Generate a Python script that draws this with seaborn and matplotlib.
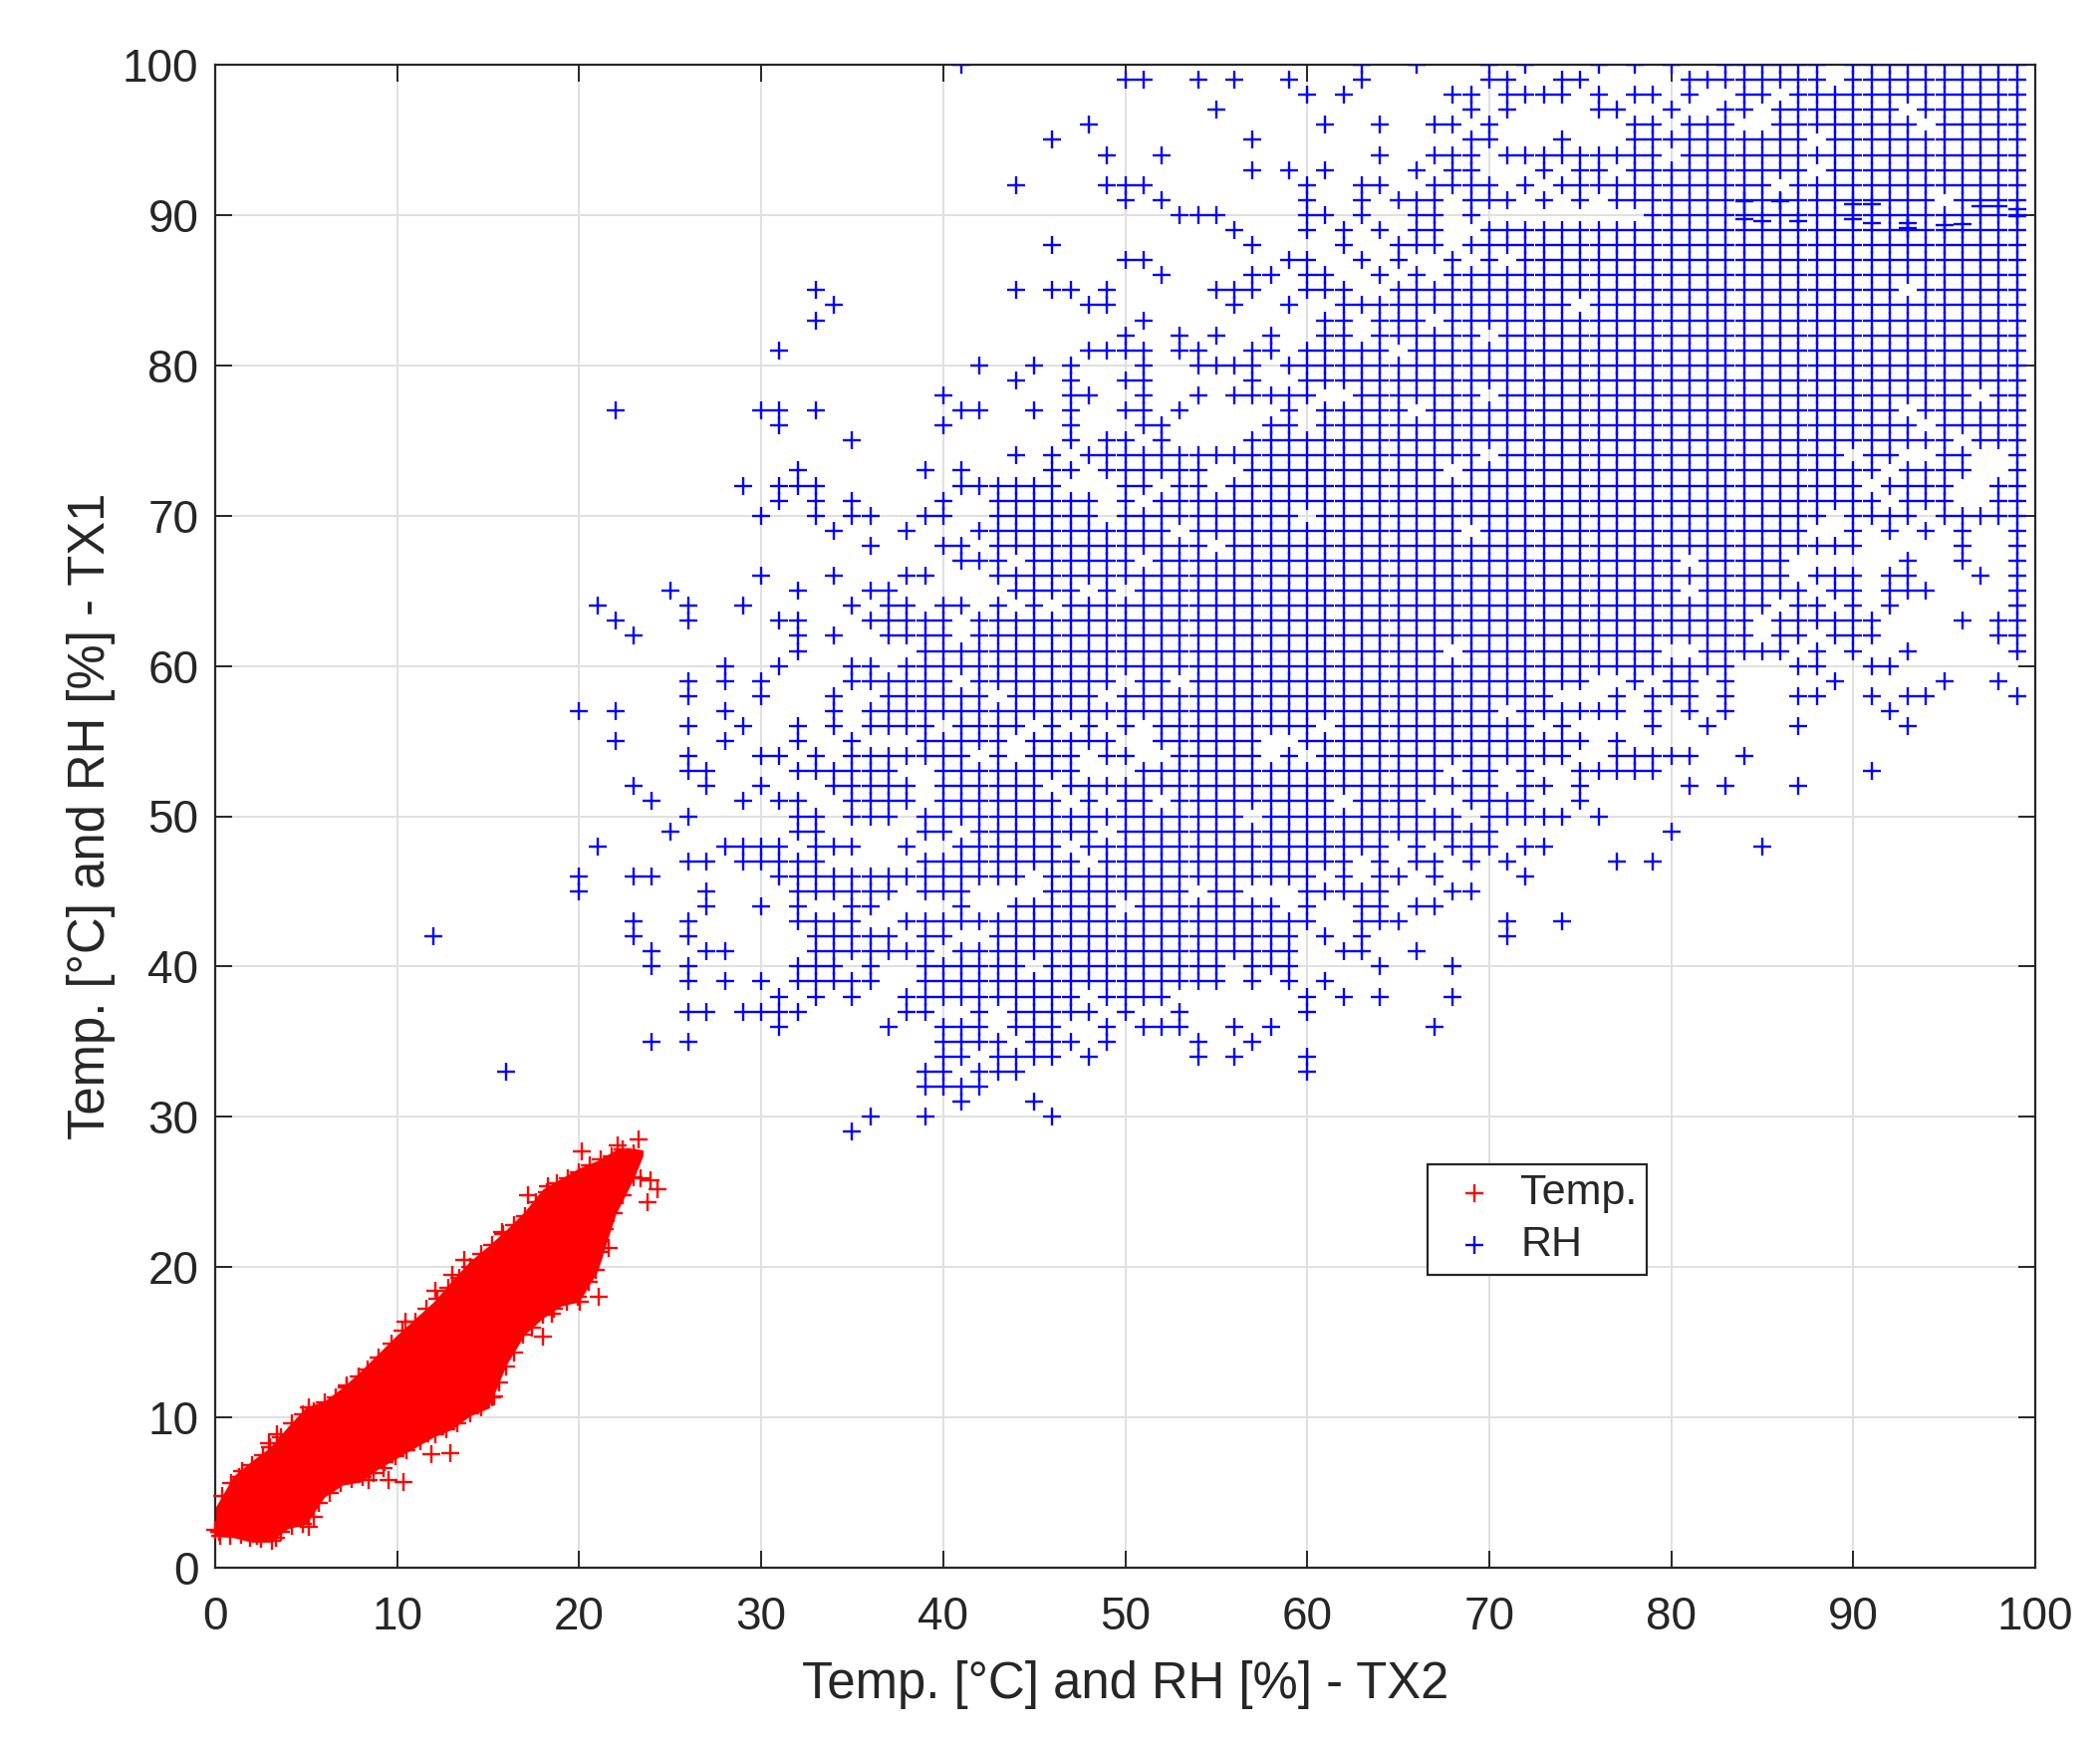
#!/usr/bin/env python
# coding: utf-8

import matplotlib
matplotlib.use('Agg')
import matplotlib.pyplot as plt
import pandas as pd
import seaborn as sns

# RH readings, one list of TX2 values per TX1 level. a tuple is a run of whole values (first, last)
rh_100 = [41, 63, 66, 70, 72, 76, 78, 80, (83, 88), (90, 99)]
rh_99 = [50, 51, 54, 56, 59, 63, 70, 71, 74, 75, (81, 88), (90, 99)]
rh_98 = [60, 62, 68, 69, (71, 74), 76, 78, 79, 81, 84, 85, (87, 99)]
rh_97 = [55, 69, 71, 76, 77, 80, 83, 84, (86, 92), (94, 99)]
rh_96 = [48, 61, 64, 67, 68, 70, 78, 79, (81, 83), (86, 93), (95, 99)]
rh_95 = [46, 57, 69, 70, 74, (78, 87), (89, 99)]
rh_94 = [49, 52, 64, 67, 68, 69, (71, 79), (81, 99)]
rh_93 = [57, 59, 61, 66, 68, 69, 73, 75, 76, (78, 87), (89, 99)]
rh_92 = [44, 49, 50, 51, 60, 63, 64, (67, 70), 72, (74, 85), (87, 99)]
rh_91 = [50, 52, 60, 63, 65, 66, 67, 69, 70, 71, 73, 75, (77, 94), (96, 99)]
rh_90 = [53, 54, 55, 60, 61, 63, 66, 67, 69, (79, 99)]
rh_89 = [56, 60, 62, 64, 66, 67, (70, 99)]
rh_88 = [46, 57, 62, 65, 66, 67, (69, 99)]
rh_87 = [50, 51, 59, 60, 63, 65, 68, 70, (72, 99)]
rh_86 = [52, 57, 58, 60, 61, 64, 66, (68, 99)]
rh_85 = [33, 44, 46, 47, 49, 55, 56, 57, 60, 61, 62, (65, 92), (94, 99)]
rh_84 = [34, 48, 49, 56, 59, (62, 74), (76, 99)]
rh_83 = [33, 51, 61, 62, (64, 66), (68, 99)]
rh_82 = [50, 53, 55, 58, 61, 62, (64, 69), (71, 99)]
rh_81 = [31, 48, 49, 50, 51, 53, 54, 57, 58, (60, 64), (66, 99)]
rh_80 = [42, 45, 47, 51, 54, 55, 56, 57, (59, 99)]
rh_79 = [44, 47, 50, 51, 57, (60, 99)]
rh_78 = [40, 47, 48, 51, 54, (56, 60), (63, 69), (71, 96), 98, 99]
rh_77 = [22, 30, 31, 33, 41, 42, 45, 47, 50, 51, 53, 59, (61, 65), (67, 92), (94, 99)]
rh_76 = [31, 40, 47, 51, 52, 58, 59, (61, 93), (95, 99)]
rh_75 = [35, 47, 49, 50, 52, (57, 95), (97, 99)]
rh_74 = [44, 46, (48, 69), (71, 89), 91, 92, 95, 96, 99]
rh_73 = [32, 39, 41, 46, 47, (49, 54), (57, 67), (69, 91), (93, 96), 99]
rh_72 = [29, 31, 32, 33, (41, 46), 50, 51, 53, 54, (56, 90), (92, 95), 98, 99]
rh_71 = [31, 33, 35, 40, (43, 48), 50, (52, 91), (93, 95), 98, 99]
rh_70 = [30, 33, 35, 36, 39, 40, (43, 48), (50, 59), (61, 88), (90, 93), (95, 99)]
rh_69 = [34, 38, (42, 52), (54, 68), (70, 87), 90, 92, 94, 96, 99]
rh_68 = [36, 40, 41, 43, 44, (45, 54), (56, 90), 96, 99]
rh_67 = [41, 42, 43, (45, 50), (52, 80), (82, 86), 93, 96, 99]
rh_66 = [30, 34, 38, 39, (43, 86), 88, 89, 90, 92, 93, 97, 99]
rh_65 = [25, 32, 36, 37, (44, 47), 49, (51, 80), (82, 87), 89, 90, (92, 94), 99]
rh_64 = [21, 26, 29, 35, 37, 38, 40, 41, 43, 45, (47, 85), 87, 88, 90, 92, 99]
rh_63 = [22, 26, 31, 32, (36, 40), (42, 84), (86, 91), 96, 98, 99]
rh_62 = [23, 32, 34, (37, 40), (42, 84), 86, 87, 89, 90, 91, 98, 99]
rh_61 = [32, (39, 67), (69, 79), (82, 86), 88, 90, 93, 99]
rh_60 = [28, 31, 35, 36, (38, 83), 87, 88, 91, 92]
rh_59 = [26, 28, 30, (35, 40), (42, 49), 51, 52, (54, 75), 78, 80, 81, 83, 89, 95, 98]
rh_58 = [26, 30, 34, (37, 42), (44, 48), (50, 73), 77, (79, 81), 83, 87, 88, 91, 93, 94, 99]
rh_57 = [20, 22, 28, 34, (36, 70), (72, 77), 79, 81, 83, 92]
rh_56 = [26, 29, 32, 34, (36, 39), (41, 44), 46, 48, 50, (52, 60), (62, 72), 74, 79, 82, 87, 93]
rh_55 = [22, 28, 32, 35, (39, 43), (45, 49), (52, 57), (60, 75), 77]
rh_54 = [26, 30, 31, 33, (35, 41), 43, 45, 46, 47, 49, 50, (53, 57), 59, (61, 74), (77, 81), 84]
rh_53 = [26, 27, (32, 37), (40, 47), (51, 67), 69, 70, 72, (75, 79), 91]
rh_52 = [23, 27, 30, (34, 38), (40, 45), (47, 70), 72, 73, 75, 81, 83, 87]
rh_51 = [24, 29, 31, 32, (35, 38), (40, 46), 48, 50, 51, (53, 61), (63, 66), (69, 72), 75]
rh_50 = [26, 32, 33, (35, 37), (39, 56), (58, 68), (70, 74), 76]
rh_49 = [25, 32, 33, 39, 40, (42, 48), (50, 70), 80]
rh_48 = [21, (28, 31), (33, 35), 38, (41, 46), (48, 64), 66, (68, 70), 72, 73, 85]
rh_47 = [26, 27, (29, 33), (39, 47), (49, 62), 64, 66, 67, 69, 71, 77, 79]
rh_46 = [20, 23, 24, (31, 44), (46, 60), 62, 64, 65, 67, 72]
rh_45 = [20, 27, (32, 37), (39, 41), (46, 53), 55, 56, (60, 64), 68, 69]
rh_44 = [27, 30, 32, 35, 36, 41, (44, 49), (51, 58), 60, 63, 64, 66, 67]
rh_43 = [23, 26, (32, 35), (38, 60), (63, 65), 71, 74]
rh_42 = [12, 23, 26, (33, 37), 39, 40, (43, 59), 61, 63, 71]
rh_41 = [24, 27, 28, (33, 39), (41, 59), 62, 63, 66]
rh_40 = [24, 26, (32, 34), 36, (39, 44), (46, 55), (57, 59), 64, 68]
rh_39 = [26, 28, 30, (32, 36), (39, 55), 57, 59, 61]
rh_38 = [31, 33, 35, (38, 47), (49, 52), 60, 62, 64, 68]
rh_37 = [26, 27, (29, 32), 38, 39, 42, (44, 48), 50, 53, 60]
rh_36 = [31, 37, 40, 41, 42, 44, 45, 46, 49, 51, 52, 53, 56, 58, 67]
rh_35 = [24, 26, 40, 41, 42, 43, 45, 46, 47, 49, 54, 57]
rh_34 = [40, 41, 43, 44, 45, 46, 48, 54, 56, 60]
rh_33 = [16, 39, 40, 42, 43, 44, 60]
rh_32 = [39, 40, 41, 42]
rh_31 = [41, 45]
rh_30 = [36, 39, 46]
rh_29 = [35]

# the few off-grid RH readings around 90
rh_odd_x = [84, 86, 84, 85, 87, 90, 91, 90, 91, 93, 93, 95, 96, 97, 98, 99, 99]
rh_odd_y = [90.9, 90.9, 89.7, 89.6, 89.6, 90.75, 90.75, 89.7, 89.45, 89.45, 89.1,
            89.3, 89.4, 90.6, 90.6, 90.4, 89.9]

# Temp. cloud is solid, so only its outline is read: lower and upper edge
temp_edge_x = [0, 1, 2, 3, 4, 5, 6, 7, 8, 9, 10, 11, 12, 13, 14, 15, 16, 17, 18, 19, 20, 21, 22, 23, 23.5]
temp_edge_lo = [2.1, 2.0, 1.7, 1.7, 2.6, 2.9, 4.7, 5.5, 5.7, 6.6, 7.3, 8.0, 8.7, 9.2, 10.1, 10.6,
                13.5, 15.5, 16.6, 17.4, 17.7, 19.7, 23.5, 25.9, 27.4]
temp_edge_hi = [4.0, 6.1, 7.1, 8.0, 9.4, 10.7, 11.1, 12.0, 13.1, 14.3, 15.5, 16.6, 17.7, 19.1, 20.4,
                21.4, 22.5, 23.7, 25.2, 25.9, 26.6, 27.1, 27.8, 27.9, 27.8]

# single crosses standing out of the cloud
temp_x = [18.0, 21.06, 23.77, 24.3, 23.25, 10.37, 11.9, 12.9, 17.2, 20.15, 22.1, 15.76, 13.7, 3.4, 2.96,
          23.9, 23.35, 18.3, 15.2, 21.6, 21.2, 18.5, 20.05, 9.55, 8.45, 9.27, 5.15, 3.33, 2.3, 0.3, 0.0,
          1.3, 5.15, 7.2, 10.45, 12.1, 13.0]
temp_y = [15.35, 18.0, 24.3, 25.2, 28.5, 5.7, 7.57, 7.6, 24.8, 27.7, 28.1, 22.35, 20.5, 8.9, 8.3,
          25.8, 25.9, 25.4, 11.3, 21.3, 22.4, 16.9, 17.7, 5.8, 5.8, 6.6, 2.7, 2.0, 2.15, 2.15, 2.5,
          6.0, 10.66, 12.1, 16.4, 18.4, 19.5]

# crosses along the rim of the cloud, upper side then lower side
temp_rim_hi_x = [0.4, 0.9, 1.5, 2.0, 2.6, 3.0, 3.6, 4.2, 4.8, 5.4, 6.0, 6.6, 7.2, 7.9, 8.4, 9.0, 9.7, 10.3,
                 11.0, 11.6, 12.2, 12.8, 13.4, 14.0, 14.6, 15.2, 15.8, 16.4, 17.0, 17.6, 18.2, 18.8, 19.4,
                 20.0, 20.6, 21.2, 21.8, 22.4, 23.0]
temp_rim_hi_y = [4.8, 5.6, 6.4, 6.8, 7.5, 8.0, 8.7, 9.6, 10.2, 10.4, 11.0, 11.3, 12.0, 12.7, 13.2, 14.0, 14.9,
                 15.8, 16.4, 17.2, 17.9, 18.6, 19.3, 20.0, 20.9, 21.5, 22.2, 22.8, 23.4, 24.3, 25.0, 25.6,
                 25.9, 26.3, 26.8, 27.2, 27.4, 27.8, 27.6]
temp_rim_lo_x = [0.2, 0.8, 1.4, 1.9, 2.5, 3.1, 3.6, 4.2, 4.8, 5.4, 5.7, 6.3, 6.9, 7.5, 8.1, 8.7, 9.3, 9.9, 10.5,
                 11.3, 12.1, 12.7, 13.3, 14.0, 14.6, 15.3, 15.6, 16.0, 16.4, 16.9, 17.4, 18.0, 18.6, 19.3,
                 19.9, 20.5, 20.9, 21.2, 21.4, 21.9, 22.4, 23.0]
temp_rim_lo_y = [2.4, 2.1, 2.2, 2.0, 1.9, 1.8, 2.4, 2.8, 2.9, 3.4, 4.3, 5.0, 5.6, 5.9, 6.0, 6.3, 7.0, 7.4, 7.8,
                 8.4, 8.9, 9.2, 9.6, 10.3, 10.7, 11.4, 12.3, 13.4, 14.3, 15.5, 16.0, 16.8, 17.2, 17.7,
                 18.0, 19.0, 19.8, 21.0, 22.5, 23.6, 24.8, 26.0]

tick_values = [0, 10, 20, 30, 40, 50, 60, 70, 80, 90, 100]

# expand the per-level lists into points
rh_x = []
rh_y = []
for level in range(29, 101):
    for item in globals()['rh_%d' % level]:
        if isinstance(item, tuple):
            xs = list(range(item[0], item[1] + 1))
        else:
            xs = [item]
        rh_x += xs
        rh_y += [level] * len(xs)
rh_x += rh_odd_x
rh_y += rh_odd_y

rh_df = pd.DataFrame({'tx2': rh_x, 'tx1': rh_y})
temp_df = pd.DataFrame({'tx2': temp_x + temp_rim_hi_x + temp_rim_lo_x,
                        'tx1': temp_y + temp_rim_hi_y + temp_rim_lo_y})

sns.set_style('white')
plt.rcParams['font.family'] = ['Liberation Sans', 'DejaVu Sans']
dark = '#262626'

fig = plt.figure(figsize=(10.54, 8.75), dpi=200)
ax = fig.add_axes([216 / 2108, 1 - 1574 / 1750, (2043 - 216) / 2108, (1574 - 65) / 1750])

ax.fill_between(temp_edge_x, temp_edge_lo, temp_edge_hi, color='#ff0000', linewidth=0, zorder=2)
sns.scatterplot(data=temp_df, x='tx2', y='tx1', marker='+', color='#ff0000', s=42, linewidth=0.85,
                label='Temp.', ax=ax, zorder=3, clip_on=False)
sns.scatterplot(data=rh_df, x='tx2', y='tx1', marker='+', color='#0000ff', s=42, linewidth=0.85,
                label='RH', ax=ax, zorder=3)

ax.set_xlim(0, 100)
ax.set_ylim(0, 100)
ax.set_xticks(tick_values)
ax.set_yticks(tick_values)
ax.grid(True, color='#e0e0e0', linewidth=0.7)
ax.set_axisbelow(True)
ax.tick_params(direction='in', length=6, width=0.7, color=dark, labelcolor=dark, labelsize=16.5,
               top=True, right=True, bottom=True, left=True, pad=6)
ax.tick_params(axis='x', pad=10)
for side in ax.spines.values():
    side.set_color(dark)
    side.set_linewidth(0.8)

ax.set_xlabel('Temp. [°C] and RH [%] - TX2', fontsize=18.3, color=dark, labelpad=7.5)
ax.set_ylabel('Temp. [°C] and RH [%] - TX1', fontsize=18.3, color=dark, labelpad=2.5)

leg = ax.legend(loc='upper left', bbox_to_anchor=((1433 - 216) / 1827, (1574 - 1168.5) / 1509),
                borderaxespad=0, fancybox=False, framealpha=1, edgecolor=dark, fontsize=15.5,
                handletextpad=0.2, borderpad=0.22, labelspacing=0.28, handlelength=1.74)
leg.get_frame().set_linewidth(0.8)
for text in leg.get_texts():
    text.set_color(dark)

fig.savefig('out.png', dpi=200)
